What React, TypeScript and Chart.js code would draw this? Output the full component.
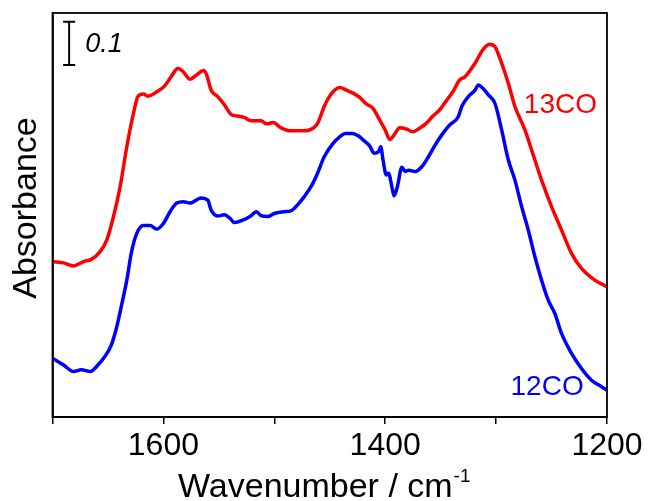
import React, { useEffect, useRef } from "react";
import { Chart, registerables } from "chart.js";

Chart.register(...registerables);

// 13CO spectrum (red)
const redWavenumber = [
  1700, 1690, 1681, 1672, 1665, 1657, 1651, 1645, 1639, 1633,
  1627, 1623, 1618, 1614, 1606, 1599, 1593, 1587, 1582, 1576,
  1570, 1564, 1561, 1557, 1551, 1545, 1539, 1533, 1527, 1521,
  1512, 1507, 1501, 1494, 1486, 1474, 1465, 1461, 1455, 1453,
  1447, 1441, 1435, 1429, 1423, 1417, 1411, 1405, 1400, 1396,
  1391, 1387, 1381, 1375, 1369, 1363, 1357, 1351, 1345, 1339,
  1333, 1328, 1319, 1312, 1306, 1301, 1295, 1289, 1283, 1274,
  1267, 1259, 1250, 1241, 1232, 1223, 1211, 1200,
];
const redAbsorbance = [
  0.359, 0.356, 0.349, 0.359, 0.364, 0.382, 0.409, 0.463, 0.532, 0.624,
  0.701, 0.740, 0.746, 0.741, 0.751, 0.764, 0.786, 0.805, 0.797, 0.780,
  0.790, 0.800, 0.790, 0.755, 0.740, 0.721, 0.699, 0.695, 0.692, 0.684,
  0.684, 0.677, 0.680, 0.668, 0.661, 0.661, 0.667, 0.678, 0.717, 0.728,
  0.751, 0.761, 0.755, 0.748, 0.738, 0.723, 0.713, 0.686, 0.663, 0.641,
  0.655, 0.668, 0.665, 0.659, 0.667, 0.678, 0.695, 0.709, 0.730, 0.751,
  0.778, 0.786, 0.817, 0.848, 0.861, 0.855, 0.817, 0.771, 0.717, 0.663,
  0.609, 0.547, 0.486, 0.432, 0.378, 0.343, 0.316, 0.301,
];

// 12CO spectrum (blue)
const blueWavenumber = [
  1700, 1690, 1681, 1674, 1666, 1659, 1653, 1647, 1642, 1638,
  1633, 1629, 1624, 1618, 1612, 1606, 1600, 1594, 1588, 1582,
  1576, 1566, 1560, 1557, 1551, 1545, 1540, 1536, 1528, 1522,
  1516, 1512, 1506, 1500, 1491, 1485, 1479, 1473, 1466, 1461,
  1455, 1447, 1441, 1436, 1430, 1424, 1420, 1414, 1410, 1406,
  1404, 1402, 1399, 1397, 1394, 1392, 1389, 1385, 1382, 1379,
  1373, 1367, 1361, 1355, 1348, 1342, 1334, 1331, 1325, 1319,
  1316, 1312, 1307, 1301, 1295, 1289, 1283, 1277, 1271, 1265,
  1259, 1253, 1247, 1241, 1232, 1223, 1214, 1205, 1200,
];
const blueAbsorbance = [
  0.136, 0.120, 0.105, 0.109, 0.105, 0.120, 0.139, 0.166, 0.209, 0.255,
  0.316, 0.378, 0.424, 0.442, 0.442, 0.434, 0.447, 0.474, 0.494, 0.497,
  0.494, 0.506, 0.501, 0.478, 0.464, 0.467, 0.459, 0.449, 0.455, 0.463,
  0.474, 0.465, 0.463, 0.470, 0.474, 0.476, 0.490, 0.509, 0.536, 0.563,
  0.601, 0.632, 0.647, 0.655, 0.655, 0.649, 0.640, 0.626, 0.609, 0.613,
  0.624, 0.594, 0.559, 0.563, 0.532, 0.511, 0.532, 0.577, 0.567, 0.570,
  0.567, 0.578, 0.601, 0.628, 0.655, 0.674, 0.694, 0.717, 0.740, 0.755,
  0.767, 0.759, 0.744, 0.724, 0.663, 0.594, 0.547, 0.486, 0.432, 0.370,
  0.316, 0.270, 0.239, 0.193, 0.147, 0.112, 0.085, 0.070, 0.062,
];

const xTickLabels = [1600, 1400, 1200];
const seriesLabels = ["13CO", "12CO"];
const scaleBarLabel = "0.1";
const scaleBarValue = 0.1;
const xTitle = "Wavenumber / cm";
const xTitleSup = "-1";
const yTitle = "Absorbance";

const FONT = "'Liberation Sans', Arial, Helvetica, sans-serif";

const toPoints = (xs: number[], ys: number[]) => xs.map((x, i) => ({ x, y: ys[i] }));

const decorPlugin = {
  id: "decor",
  afterDraw(chart: any) {
    const { ctx, chartArea, scales } = chart;
    const xs = scales.x;
    const ys = scales.y;
    ctx.save();
    // frame
    ctx.strokeStyle = "#000";
    ctx.lineWidth = 1.8;
    ctx.strokeRect(chartArea.left, chartArea.top, chartArea.right - chartArea.left, chartArea.bottom - chartArea.top);

    // scale bar
    const bx = xs.getPixelForValue(1685);
    const by1 = ys.getPixelForValue(0.913);
    const by2 = ys.getPixelForValue(0.913 - scaleBarValue);
    ctx.lineWidth = 2;
    ctx.beginPath();
    ctx.moveTo(bx, by1);
    ctx.lineTo(bx, by2);
    ctx.moveTo(bx - 6, by1);
    ctx.lineTo(bx + 6, by1);
    ctx.moveTo(bx - 6, by2);
    ctx.lineTo(bx + 6, by2);
    ctx.stroke();
    ctx.fillStyle = "#000";
    ctx.font = `italic 27px ${FONT}`;
    ctx.textAlign = "left";
    ctx.textBaseline = "alphabetic";
    ctx.fillText(scaleBarLabel, xs.getPixelForValue(1670.5), ys.getPixelForValue(0.843));

    // series labels
    ctx.font = `28px ${FONT}`;
    ctx.textAlign = "center";
    ctx.fillStyle = "#FF0000";
    ctx.fillText(seriesLabels[0], xs.getPixelForValue(1242), ys.getPixelForValue(0.702));
    ctx.fillStyle = "#0000FF";
    ctx.fillText(seriesLabels[1], xs.getPixelForValue(1254), ys.getPixelForValue(0.051));

    // y title
    ctx.fillStyle = "#000";
    ctx.font = `34px ${FONT}`;
    ctx.save();
    ctx.translate(27, 208);
    ctx.rotate(-Math.PI / 2);
    ctx.textAlign = "center";
    ctx.textBaseline = "middle";
    ctx.fillText(yTitle, 0, 0);
    ctx.restore();

    // x title with superscript
    ctx.font = `34px ${FONT}`;
    const w1 = ctx.measureText(xTitle).width;
    ctx.font = `19px ${FONT}`;
    const w2 = ctx.measureText(xTitleSup).width;
    const cx = (chartArea.left + chartArea.right) / 2 - 6;
    const start = cx - (w1 + w2) / 2;
    ctx.textAlign = "left";
    ctx.textBaseline = "alphabetic";
    ctx.font = `34px ${FONT}`;
    ctx.fillText(xTitle, start, 497);
    ctx.font = `19px ${FONT}`;
    ctx.fillText(xTitleSup, start + w1 + 1, 482);
    ctx.restore();
  },
};

export default function App() {
  const canvasRef = useRef<HTMLCanvasElement | null>(null);

  useEffect(() => {
    const canvas = canvasRef.current;
    if (!canvas) return;
    const chart = new Chart(canvas, {
      type: "line",
      data: {
        datasets: [
          {
            label: seriesLabels[0],
            data: toPoints(redWavenumber, redAbsorbance),
            borderColor: "#FF0000",
            borderWidth: 3.5,
            pointRadius: 0,
            cubicInterpolationMode: "monotone",
            fill: false,
          },
          {
            label: seriesLabels[1],
            data: toPoints(blueWavenumber, blueAbsorbance),
            borderColor: "#0000FF",
            borderWidth: 3.5,
            pointRadius: 0,
            cubicInterpolationMode: "monotone",
            fill: false,
          },
        ],
      },
      options: {
        animation: false,
        responsive: false,
        maintainAspectRatio: false,
        layout: { padding: { top: 13, right: 47, left: 0, bottom: 0 } },
        plugins: {
          legend: { display: false },
          tooltip: { enabled: false },
          title: { display: false },
        },
        scales: {
          x: {
            type: "linear",
            reverse: true,
            min: 1200,
            max: 1700,
            afterFit: (s: any) => {
              s.height = 84;
            },
            ticks: {
              stepSize: 100,
              autoSkip: false,
              maxRotation: 0,
              padding: 3,
              color: "#000",
              font: { family: FONT, size: 32 },
              callback: (v: any) => (xTickLabels.includes(Number(v)) ? String(v) : ""),
            },
            grid: {
              display: true,
              drawOnChartArea: false,
              drawTicks: true,
              tickLength: 7,
              color: "#000",
              lineWidth: 1.5,
            },
            border: { display: true, color: "#000", width: 1.8 },
            title: { display: false },
          },
          y: {
            type: "linear",
            min: 0,
            max: 0.933,
            afterFit: (s: any) => {
              s.width = 52.5;
            },
            ticks: { display: false },
            grid: { display: false, drawTicks: false },
            border: { display: true, color: "#000", width: 1.8 },
            title: { display: false },
          },
        },
      },
      plugins: [decorPlugin],
    });
    return () => chart.destroy();
  }, []);

  return (
    <div style={{ position: "absolute", left: 0, top: 0, width: 654, height: 501, background: "#fff" }}>
      <canvas ref={canvasRef} width={654} height={501} style={{ width: 654, height: 501 }} />
    </div>
  );
}
